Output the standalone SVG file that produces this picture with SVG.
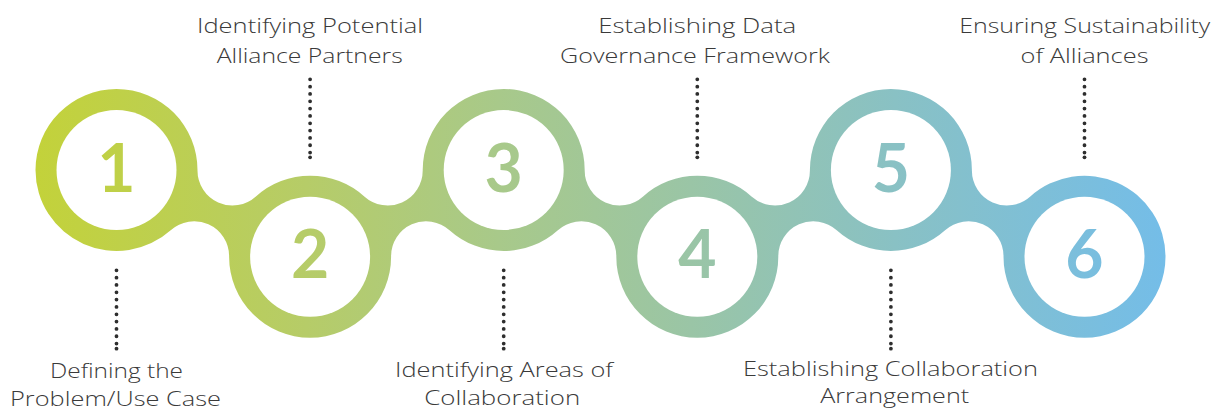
<svg xmlns="http://www.w3.org/2000/svg" width="1221" height="410" viewBox="0 0 1221 410">
<style>
.lbl{font-family:"Open Sans",Lato,"Liberation Sans",sans-serif;font-weight:300;font-size:21px;fill:#3a3a3a;text-anchor:middle}
.num{font-family:Lato,"Liberation Sans",sans-serif;font-weight:700;font-size:66px;fill:url(#grad);text-anchor:middle}
.inner{fill:#ffffff}
.dots{stroke:#2e2e2e;stroke-width:3.8;stroke-linecap:round;stroke-dasharray:0 7.33;fill:none}
.enddot{fill:#2e2e2e}
</style>
<defs>
<linearGradient id="grad" gradientUnits="userSpaceOnUse" x1="35" y1="0" x2="1166" y2="0">
<stop offset="0" stop-color="#c3d23a"/>
<stop offset="0.24" stop-color="#b6cc68"/>
<stop offset="0.41" stop-color="#a8c98a"/>
<stop offset="0.58" stop-color="#9ac5a6"/>
<stop offset="0.76" stop-color="#89c1c4"/>
<stop offset="1" stop-color="#74bde8"/>
</linearGradient>
</defs>
<rect width="1221" height="410" fill="#ffffff"/>
<g id="band">
<path fill="url(#grad)" d="M35.5,170 A81,81 0 0 1 116.5,89 A81,81 0 0 1 197.49,170.34 A35,35 0 0 0 255.91,196.5 A81,81 0 0 1 364.29,196.5 A35,35 0 0 0 422.71,170.34 A81,81 0 0 1 503.7,89 A81,81 0 0 1 584.69,170.34 A35,35 0 0 0 643.11,196.5 A81,81 0 0 1 751.49,196.5 A35,35 0 0 0 809.91,170.34 A81,81 0 0 1 890.9,89 A81,81 0 0 1 971.89,170.34 A35,35 0 0 0 1030.31,196.5 A81,81 0 0 1 1165.5,256.7 A81,81 0 0 1 1084.5,337.7 A81,81 0 0 1 1003.51,256.36 A35,35 0 0 0 945.09,230.2 A81,81 0 0 1 836.71,230.2 A35,35 0 0 0 778.29,256.36 A81,81 0 0 1 697.3,337.7 A81,81 0 0 1 616.31,256.36 A35,35 0 0 0 557.89,230.2 A81,81 0 0 1 449.51,230.2 A35,35 0 0 0 391.09,256.36 A81,81 0 0 1 310.1,337.7 A81,81 0 0 1 229.11,256.36 A35,35 0 0 0 170.69,230.2 A81,81 0 0 1 35.5,170 Z"/>
</g>
<g id="connectors">
<line class="dots" x1="116.5" y1="270.3" x2="116.5" y2="344"/><circle class="enddot" cx="116.5" cy="348.7" r="1.9"/>
<line class="dots" x1="310.1" y1="79.3" x2="310.1" y2="153"/><circle class="enddot" cx="310.1" cy="157.3" r="1.9"/>
<line class="dots" x1="503.7" y1="270.3" x2="503.7" y2="344"/><circle class="enddot" cx="503.7" cy="348.7" r="1.9"/>
<line class="dots" x1="697.3" y1="79.3" x2="697.3" y2="153"/><circle class="enddot" cx="697.3" cy="157.3" r="1.9"/>
<line class="dots" x1="890.9" y1="270.3" x2="890.9" y2="344"/><circle class="enddot" cx="890.9" cy="348.7" r="1.9"/>
<line class="dots" x1="1084.5" y1="79.3" x2="1084.5" y2="153"/><circle class="enddot" cx="1084.5" cy="157.3" r="1.9"/>
</g>
<g id="step1">
<circle class="inner" cx="116.5" cy="170" r="60"/>
<text class="num" x="116.5" y="191.5">1</text>
<text class="lbl" x="116.5" y="378" textLength="133" lengthAdjust="spacingAndGlyphs">Defining the</text>
<text class="lbl" x="115.5" y="406" textLength="211" lengthAdjust="spacingAndGlyphs">Problem/Use Case</text>
</g>
<g id="step2">
<circle class="inner" cx="310.1" cy="256.7" r="60"/>
<text class="num" x="310.1" y="278">2</text>
<text class="lbl" x="310" y="33" textLength="226" lengthAdjust="spacingAndGlyphs">Identifying Potential</text>
<text class="lbl" x="309.7" y="63" textLength="186" lengthAdjust="spacingAndGlyphs">Alliance Partners</text>
</g>
<g id="step3">
<circle class="inner" cx="503.7" cy="170" r="60"/>
<text class="num" x="503.7" y="191.5">3</text>
<text class="lbl" x="504" y="377" textLength="218" lengthAdjust="spacingAndGlyphs">Identifying Areas of</text>
<text class="lbl" x="502.2" y="405" textLength="156" lengthAdjust="spacingAndGlyphs">Collaboration</text>
</g>
<g id="step4">
<circle class="inner" cx="697.3" cy="256.7" r="60"/>
<text class="num" x="697.3" y="278">4</text>
<text class="lbl" x="697.2" y="33" textLength="198" lengthAdjust="spacingAndGlyphs">Establishing Data</text>
<text class="lbl" x="695" y="63" textLength="270" lengthAdjust="spacingAndGlyphs">Governance Framework</text>
</g>
<g id="step5">
<circle class="inner" cx="890.9" cy="170" r="60"/>
<text class="num" x="890.9" y="191.5">5</text>
<text class="lbl" x="890.5" y="376" textLength="295" lengthAdjust="spacingAndGlyphs">Establishing Collaboration</text>
<text class="lbl" x="894.7" y="403" textLength="149" lengthAdjust="spacingAndGlyphs">Arrangement</text>
</g>
<g id="step6">
<circle class="inner" cx="1084.5" cy="256.7" r="60"/>
<text class="num" x="1084.5" y="278">6</text>
<text class="lbl" x="1084.7" y="33" textLength="251" lengthAdjust="spacingAndGlyphs">Ensuring Sustainability</text>
<text class="lbl" x="1084.5" y="63" textLength="128" lengthAdjust="spacingAndGlyphs">of Alliances</text>
</g>
</svg>
